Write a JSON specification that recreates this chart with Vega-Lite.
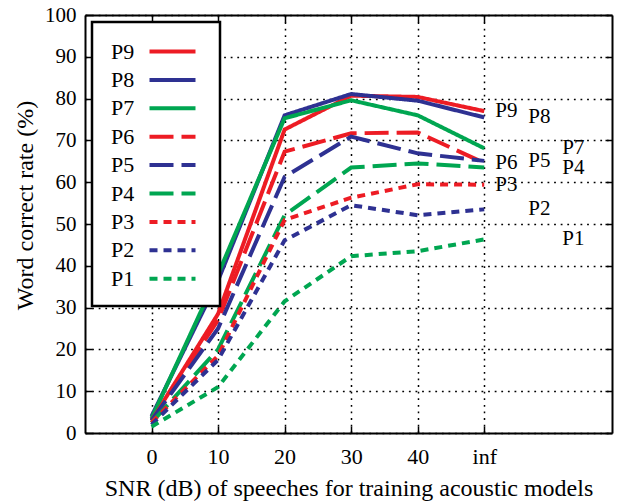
{
  "$schema": "https://vega.github.io/schema/vega-lite/v6.json",
  "autosize": {"type": "none"},
  "padding": {"left": 85, "top": 15, "right": 6, "bottom": 71},
  "width": 527,
  "height": 418,
  "background": "white",
  "config": {
    "view": {"stroke": null},
    "font": "Liberation Serif",
    "axis": {
      "labelFont": "Liberation Serif",
      "titleFont": "Liberation Serif",
      "labelColor": "black",
      "titleColor": "black",
      "titleFontWeight": "normal",
      "domainColor": "black",
      "domainWidth": 2,
      "tickColor": "black",
      "tickWidth": 1.5,
      "gridColor": "black",
      "gridOpacity": 1,
      "gridDash": [1.8, 4.8],
      "gridWidth": 1.5
    },
    "legend": {"strokeWidth": 2.5}
  },
  "data": {
    "values": [
      {"series": "P9", "snr": 0, "wcr": 3},
      {"series": "P9", "snr": 10, "wcr": 28.5},
      {"series": "P9", "snr": 20, "wcr": 72.6},
      {"series": "P9", "snr": 30, "wcr": 80.7},
      {"series": "P9", "snr": 40, "wcr": 80.4},
      {"series": "P9", "snr": 50, "wcr": 77.0},
      {"series": "P8", "snr": 0, "wcr": 4},
      {"series": "P8", "snr": 10, "wcr": 36.5},
      {"series": "P8", "snr": 20, "wcr": 76.0},
      {"series": "P8", "snr": 30, "wcr": 81.1},
      {"series": "P8", "snr": 40, "wcr": 79.5},
      {"series": "P8", "snr": 50, "wcr": 75.5},
      {"series": "P7", "snr": 0, "wcr": 3.5},
      {"series": "P7", "snr": 10, "wcr": 38},
      {"series": "P7", "snr": 20, "wcr": 75.3},
      {"series": "P7", "snr": 30, "wcr": 79.6},
      {"series": "P7", "snr": 40, "wcr": 76.0},
      {"series": "P7", "snr": 50, "wcr": 68.1},
      {"series": "P6", "snr": 0, "wcr": 3},
      {"series": "P6", "snr": 10, "wcr": 27},
      {"series": "P6", "snr": 20, "wcr": 67.3},
      {"series": "P6", "snr": 30, "wcr": 71.7},
      {"series": "P6", "snr": 40, "wcr": 71.9},
      {"series": "P6", "snr": 50, "wcr": 64.6},
      {"series": "P5", "snr": 0, "wcr": 3},
      {"series": "P5", "snr": 10, "wcr": 25},
      {"series": "P5", "snr": 20, "wcr": 61.3},
      {"series": "P5", "snr": 30, "wcr": 70.9},
      {"series": "P5", "snr": 40, "wcr": 66.9},
      {"series": "P5", "snr": 50, "wcr": 65.1},
      {"series": "P4", "snr": 0, "wcr": 2.5},
      {"series": "P4", "snr": 10, "wcr": 20},
      {"series": "P4", "snr": 20, "wcr": 52.1},
      {"series": "P4", "snr": 30, "wcr": 63.5},
      {"series": "P4", "snr": 40, "wcr": 64.5},
      {"series": "P4", "snr": 50, "wcr": 63.5},
      {"series": "P3", "snr": 0, "wcr": 2.5},
      {"series": "P3", "snr": 10, "wcr": 18.5},
      {"series": "P3", "snr": 20, "wcr": 51.0},
      {"series": "P3", "snr": 30, "wcr": 56.3},
      {"series": "P3", "snr": 40, "wcr": 59.5},
      {"series": "P3", "snr": 50, "wcr": 59.4},
      {"series": "P2", "snr": 0, "wcr": 2},
      {"series": "P2", "snr": 10, "wcr": 17.5},
      {"series": "P2", "snr": 20, "wcr": 46.1},
      {"series": "P2", "snr": 30, "wcr": 54.5},
      {"series": "P2", "snr": 40, "wcr": 52.1},
      {"series": "P2", "snr": 50, "wcr": 53.5},
      {"series": "P1", "snr": 0, "wcr": 1.5},
      {"series": "P1", "snr": 10, "wcr": 11},
      {"series": "P1", "snr": 20, "wcr": 31.5},
      {"series": "P1", "snr": 30, "wcr": 42.3},
      {"series": "P1", "snr": 40, "wcr": 43.5},
      {"series": "P1", "snr": 50, "wcr": 46.3}
    ]
  },
  "resolve": {"axis": {"x": "independent", "y": "independent"}},
  "layer": [
    {
      "mark": {"type": "line", "strokeWidth": 4, "strokeCap": "butt", "strokeJoin": "miter"},
      "encoding": {
        "x": {
          "field": "snr", "type": "quantitative",
          "scale": {"domain": [-10, 69.2], "nice": false, "zero": false},
          "axis": {
            "values": [0, 10, 20, 30, 40, 50],
            "labelExpr": "datum.value == 50 ? 'inf' : datum.label",
            "labelFontSize": 22,
            "labelPadding": 20,
            "tickSize": -7,
            "grid": true,
            "title": "SNR (dB) of speeches for training acoustic models",
            "titleFontSize": 24,
            "titleY": 62,
            "titleBaseline": "alphabetic"
          }
        },
        "y": {
          "field": "wcr", "type": "quantitative",
          "scale": {"domain": [0, 100], "nice": false},
          "axis": {
            "values": [0, 10, 20, 30, 40, 50, 60, 70, 80, 90, 100],
            "labelFontSize": 21,
            "labelPadding": 16,
            "tickSize": -7,
            "grid": true,
            "title": "Word correct rate (%)",
            "titleFontSize": 24,
            "titleX": -53,
            "titleY": 190,
            "titleAngle": -90,
            "titleBaseline": "alphabetic",
            "titleAlign": "center"
          }
        },
        "color": {
          "field": "series", "type": "nominal",
          "scale": {
            "domain": ["P9", "P8", "P7", "P6", "P5", "P4", "P3", "P2", "P1"],
            "range": ["#ed1c24", "#2e3192", "#00a651", "#ed1c24", "#2e3192", "#00a651", "#ed1c24", "#2e3192", "#00a651"]
          },
          "legend": {
            "title": null,
            "orient": "top-left",
            "offset": 7,
            "symbolType": "M-2,0H2",
            "symbolSize": 529,
            "symbolStrokeWidth": 4,
            "symbolFillColor": "transparent",
            "symbolOffset": 51,
            "labelOffset": -75,
            "labelAlign": "left",
            "labelFont": "Liberation Serif",
            "labelFontSize": 22,
            "labelColor": "black",
            "padding": 16,
            "rowPadding": 3.4,
            "strokeColor": "black",
            "fillColor": "white"
          }
        },
        "strokeDash": {
          "field": "series", "type": "nominal",
          "scale": {
            "domain": ["P9", "P8", "P7", "P6", "P5", "P4", "P3", "P2", "P1"],
            "range": [[1, 0], [1, 0], [1, 0], [24, 8], [24, 8], [24, 8], [8, 6], [8, 6], [8, 6]]
          }
        }
      }
    },
    {
      "transform": [{"filter": "datum.snr == 50 && indexof(['P9','P6','P3'], datum.series) >= 0"}],
      "mark": {"type": "text", "align": "left", "baseline": "middle", "dx": 11, "font": "Liberation Serif", "fontSize": 21, "color": "black"},
      "encoding": {
        "x": {"field": "snr", "type": "quantitative", "axis": {"orient": "top", "values": [0, 10, 20, 30, 40, 50], "labels": false, "title": null, "grid": false, "tickSize": -7, "domain": true}},
        "y": {"field": "wcr", "type": "quantitative", "axis": {"orient": "right", "values": [0, 10, 20, 30, 40, 50, 60, 70, 80, 90, 100], "labels": false, "title": null, "grid": false, "tickSize": -7, "domain": true}},
        "text": {"field": "series"}
      }
    },
    {
      "transform": [{"filter": "datum.snr == 50 && indexof(['P8','P5','P2'], datum.series) >= 0"}],
      "mark": {"type": "text", "align": "left", "baseline": "middle", "dx": 44, "font": "Liberation Serif", "fontSize": 21, "color": "black"},
      "encoding": {
        "x": {"field": "snr", "type": "quantitative", "axis": null},
        "y": {"field": "wcr", "type": "quantitative", "axis": null},
        "text": {"field": "series"}
      }
    },
    {
      "transform": [{"filter": "datum.snr == 50 && indexof(['P7','P4','P1'], datum.series) >= 0"}],
      "mark": {"type": "text", "align": "left", "baseline": "middle", "dx": 78, "font": "Liberation Serif", "fontSize": 21, "color": "black"},
      "encoding": {
        "x": {"field": "snr", "type": "quantitative", "axis": null},
        "y": {"field": "wcr", "type": "quantitative", "axis": null},
        "text": {"field": "series"}
      }
    }
  ]
}
